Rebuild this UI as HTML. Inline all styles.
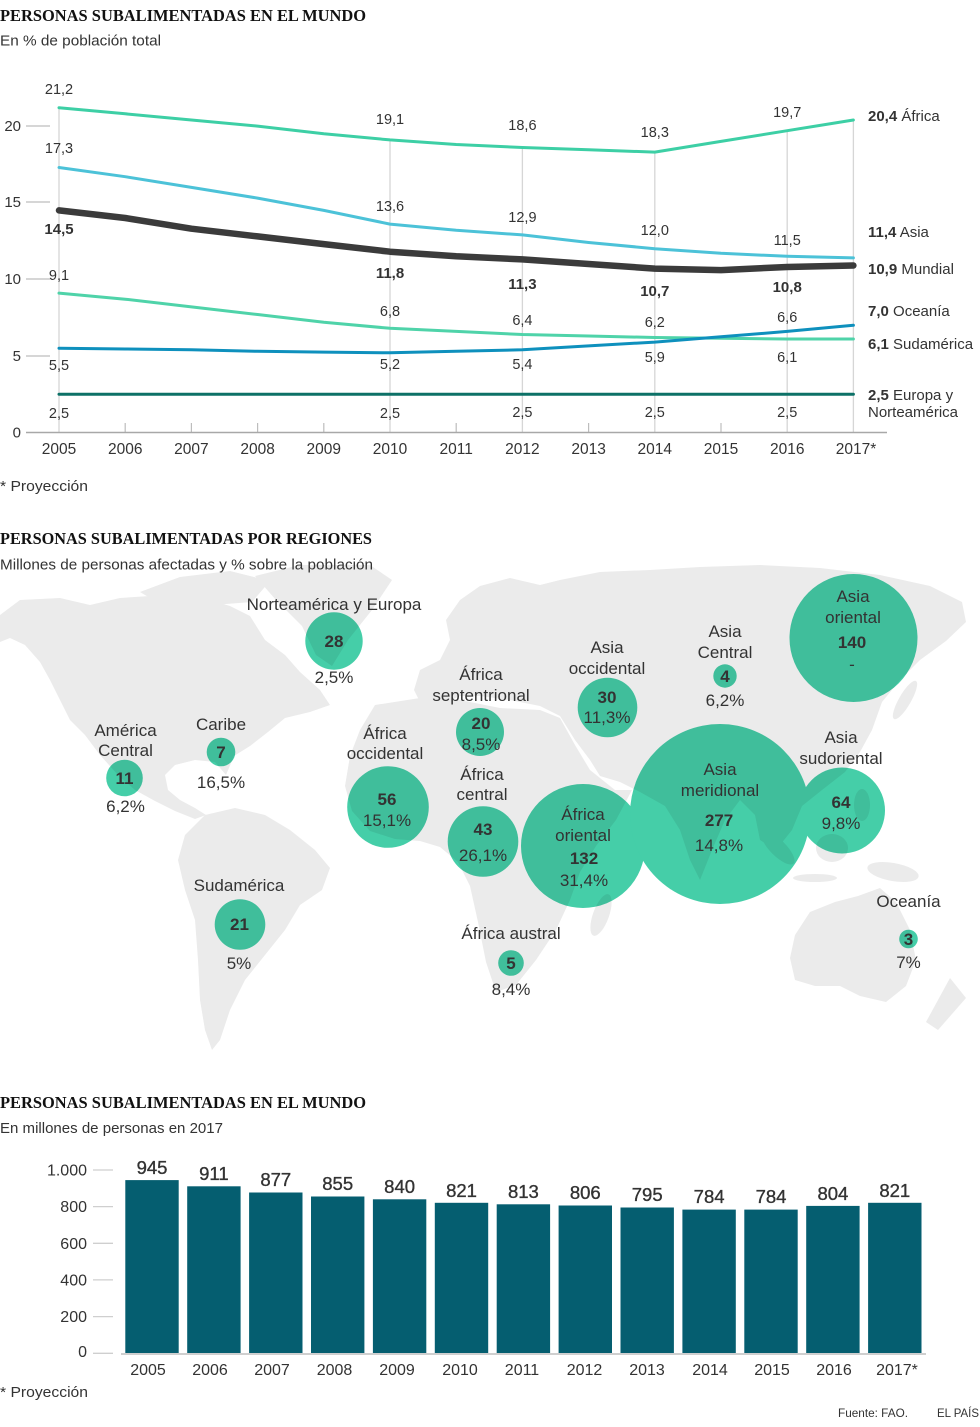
<!DOCTYPE html>
<html><head><meta charset="utf-8">
<style>
html,body{margin:0;padding:0;background:#fff;}
svg{display:block;}
text{font-family:"Liberation Sans",sans-serif;fill:#333;}
.t{font-family:"Liberation Serif",serif;font-weight:bold;font-size:17px;fill:#111;}
.st{font-size:14.5px;}
.v{font-size:14.5px;text-anchor:middle;}
.vb{font-size:15px;font-weight:bold;text-anchor:middle;}
.yl{font-size:15px;text-anchor:end;}
.xl{font-size:15.5px;text-anchor:middle;}
.rl{font-size:15px;}
.m{font-size:17px;text-anchor:middle;}
.mb{font-size:17px;font-weight:bold;text-anchor:middle;}
.bv{font-size:18.5px;text-anchor:middle;stroke:#333;stroke-width:0.35;}
.by{font-size:16px;text-anchor:end;}
.bx{font-size:16px;text-anchor:middle;}
</style></head>
<body>
<svg width="980" height="1427" viewBox="0 0 980 1427" xmlns="http://www.w3.org/2000/svg">

<!-- ===== Chart 1 ===== -->
<text class="t" x="0" y="21" textLength="366" lengthAdjust="spacingAndGlyphs">PERSONAS SUBALIMENTADAS EN EL MUNDO</text>
<text class="st" x="0" y="45.5" textLength="161" lengthAdjust="spacingAndGlyphs">En % de población total</text>

<!-- vertical grid lines -->
<g stroke="#d6d6d6" stroke-width="1.3">
<line x1="59" y1="107" x2="59" y2="432"/>
<line x1="390" y1="140" x2="390" y2="432"/>
<line x1="522.4" y1="147" x2="522.4" y2="432"/>
<line x1="654.8" y1="152" x2="654.8" y2="432"/>
<line x1="787.2" y1="131" x2="787.2" y2="432"/>
<line x1="853.4" y1="120" x2="853.4" y2="432"/>
</g>
<g stroke="#bdbdbd" stroke-width="1.2">
<line x1="125.2" y1="423" x2="125.2" y2="432"/>
<line x1="191.4" y1="423" x2="191.4" y2="432"/>
<line x1="257.6" y1="423" x2="257.6" y2="432"/>
<line x1="323.8" y1="423" x2="323.8" y2="432"/>
<line x1="456.2" y1="423" x2="456.2" y2="432"/>
<line x1="588.6" y1="423" x2="588.6" y2="432"/>
<line x1="721" y1="423" x2="721" y2="432"/>
<line x1="26" y1="126" x2="50" y2="126"/>
<line x1="26" y1="202" x2="50" y2="202"/>
<line x1="26" y1="279" x2="50" y2="279"/>
<line x1="26" y1="356" x2="50" y2="356"/>
</g>
<line x1="26" y1="432.5" x2="887" y2="432.5" stroke="#a8a8a8" stroke-width="1.4"/>

<!-- y labels -->
<text class="yl" x="21" y="131">20</text>
<text class="yl" x="21" y="207">15</text>
<text class="yl" x="21" y="284">10</text>
<text class="yl" x="21" y="361">5</text>
<text class="yl" x="21" y="437.5">0</text>

<!-- series -->
<g fill="none" stroke-linejoin="round" stroke-linecap="round">
<polyline stroke="#0d7167" stroke-width="3" points="59,394.2 853.4,394.2"/>
<polyline stroke="#4fd3a9" stroke-width="3" points="59,293.1 125.2,299.2 191.4,306.9 257.6,314.5 323.8,322.2 390,328.3 456.2,331.4 522.4,334.5 588.6,336 654.8,337.5 721,338.3 787.2,339 853.4,339"/>
<polyline stroke="#0e90bd" stroke-width="3" points="59,348.2 125.2,349 191.4,349.8 257.6,351.3 323.8,352.1 390,352.8 456.2,351.3 522.4,349.8 588.6,345.9 654.8,342.1 721,336.8 787.2,331.4 853.4,325.3"/>
<polyline stroke="#4cc2d8" stroke-width="3" points="59,167.5 125.2,176.7 191.4,187.4 257.6,198.1 323.8,210.4 390,224.1 456.2,230.3 522.4,234.9 588.6,242.5 654.8,248.7 721,253.3 787.2,256.3 853.4,257.9"/>
<polyline stroke="#3dcfa5" stroke-width="3" points="59,107.7 125.2,113.8 191.4,120 257.6,126.1 323.8,133.8 390,139.9 456.2,144.5 522.4,147.5 588.6,149.8 654.8,152.1 721,141.4 787.2,130.7 853.4,120"/>
<polyline stroke="#3b3b3b" stroke-width="6.5" points="59,210.4 125.2,218 191.4,228.7 257.6,236.4 323.8,244.1 390,251.7 456.2,256.3 522.4,259.4 588.6,264 654.8,268.6 721,270.1 787.2,267 853.4,265.5"/>
</g>

<!-- value labels -->
<text class="v" x="59" y="94">21,2</text>
<text class="v" x="59" y="153">17,3</text>
<text class="vb" x="59" y="234">14,5</text>
<text class="v" x="59" y="280">9,1</text>
<text class="v" x="59" y="370">5,5</text>
<text class="v" x="59" y="418">2,5</text>

<text class="v" x="390" y="124">19,1</text>
<text class="v" x="390" y="211">13,6</text>
<text class="vb" x="390" y="278">11,8</text>
<text class="v" x="390" y="316">6,8</text>
<text class="v" x="390" y="369">5,2</text>
<text class="v" x="390" y="418">2,5</text>

<text class="v" x="522.4" y="130">18,6</text>
<text class="v" x="522.4" y="222">12,9</text>
<text class="vb" x="522.4" y="289">11,3</text>
<text class="v" x="522.4" y="325">6,4</text>
<text class="v" x="522.4" y="369">5,4</text>
<text class="v" x="522.4" y="417">2,5</text>

<text class="v" x="654.8" y="137">18,3</text>
<text class="v" x="654.8" y="235">12,0</text>
<text class="vb" x="654.8" y="296">10,7</text>
<text class="v" x="654.8" y="327">6,2</text>
<text class="v" x="654.8" y="362">5,9</text>
<text class="v" x="654.8" y="417">2,5</text>

<text class="v" x="787.2" y="117">19,7</text>
<text class="v" x="787.2" y="245">11,5</text>
<text class="vb" x="787.2" y="292">10,8</text>
<text class="v" x="787.2" y="322">6,6</text>
<text class="v" x="787.2" y="362">6,1</text>
<text class="v" x="787.2" y="417">2,5</text>

<!-- right labels -->
<text class="rl" x="868" y="121"><tspan font-weight="bold">20,4</tspan> África</text>
<text class="rl" x="868" y="237"><tspan font-weight="bold">11,4</tspan> Asia</text>
<text class="rl" x="868" y="274"><tspan font-weight="bold">10,9</tspan> Mundial</text>
<text class="rl" x="868" y="316"><tspan font-weight="bold">7,0</tspan> Oceanía</text>
<text class="rl" x="868" y="349"><tspan font-weight="bold">6,1</tspan> Sudamérica</text>
<text class="rl" x="868" y="400"><tspan font-weight="bold">2,5</tspan> Europa y</text>
<text class="rl" x="868" y="417">Norteamérica</text>

<!-- x labels -->
<text class="xl" x="59" y="454">2005</text>
<text class="xl" x="125.2" y="454">2006</text>
<text class="xl" x="191.4" y="454">2007</text>
<text class="xl" x="257.6" y="454">2008</text>
<text class="xl" x="323.8" y="454">2009</text>
<text class="xl" x="390" y="454">2010</text>
<text class="xl" x="456.2" y="454">2011</text>
<text class="xl" x="522.4" y="454">2012</text>
<text class="xl" x="588.6" y="454">2013</text>
<text class="xl" x="654.8" y="454">2014</text>
<text class="xl" x="721" y="454">2015</text>
<text class="xl" x="787.2" y="454">2016</text>
<text class="xl" x="856" y="454">2017*</text>

<text x="0" y="491" font-size="15" textLength="88" lengthAdjust="spacingAndGlyphs">* Proyección</text>

<!-- ===== Chart 2: map ===== -->
<g fill="#ebebeb">
<!-- North America -->
<polygon points="0,615 20,600 60,598 90,605 120,598 150,596 175,600 200,597 230,606 250,616 265,640 285,655 300,672 320,690 330,705 310,712 285,718 268,732 250,746 234,756 226,775 215,762 195,760 175,765 165,775 168,790 180,800 195,808 206,815 195,819 175,811 155,801 135,790 118,775 100,755 85,735 70,720 60,700 50,680 40,662 25,645 10,638 0,642"/>
<polygon points="140,592 180,577 230,571 270,581 252,602 200,606 160,604"/>
<!-- Greenland -->
<polygon points="255,576 300,565 370,565 392,580 372,610 348,640 332,666 316,655 302,626 276,600"/>
<!-- South America -->
<polygon points="205,815 235,808 265,815 290,830 315,850 330,868 322,890 300,905 285,930 265,955 245,980 230,1010 220,1040 212,1050 205,1030 200,1000 198,960 195,920 185,890 178,860 185,835"/>
<!-- Eurasia -->
<polygon points="420,702 414,690 420,670 440,660 450,640 446,620 460,600 480,586 510,578 540,585 560,580 600,572 650,570 700,567 760,565 820,568 880,575 930,586 962,602 966,622 946,641 920,660 900,680 882,702 872,730 860,752 845,772 822,790 802,806 792,830 776,850 760,840 755,815 740,800 725,820 712,850 700,880 690,860 680,830 665,806 640,792 620,782 600,776 590,760 575,740 560,716 540,706 510,700 480,696 460,696 440,705"/>
<!-- Africa -->
<polygon points="375,705 420,698 460,700 500,708 540,710 560,718 575,745 590,770 615,790 632,790 616,820 596,846 580,872 570,900 556,930 536,960 516,985 496,992 486,962 478,922 470,886 458,862 440,847 420,841 395,839 370,831 352,811 345,786 350,756 360,730"/>
<ellipse cx="601" cy="915" rx="8" ry="22" transform="rotate(20 601 915)"/>
<!-- Japan, SE Asia islands -->
<ellipse cx="905" cy="700" rx="6" ry="22" transform="rotate(30 905 700)"/>
<ellipse cx="778" cy="848" rx="8" ry="22" transform="rotate(-45 778 848)"/>
<ellipse cx="832" cy="848" rx="16" ry="14"/>
<ellipse cx="862" cy="805" rx="8" ry="16"/>
<ellipse cx="893" cy="872" rx="26" ry="9" transform="rotate(10 893 872)"/>
<ellipse cx="815" cy="878" rx="22" ry="4"/>
<!-- Australia -->
<polygon points="795,935 810,912 835,902 858,896 880,888 896,902 910,930 916,960 906,986 886,1002 860,996 840,986 815,986 795,980 790,958"/>
<polygon points="950,978 966,998 938,1030 926,1022"/>
</g>

<text class="t" x="0" y="544" textLength="372" lengthAdjust="spacingAndGlyphs">PERSONAS SUBALIMENTADAS POR REGIONES</text>
<text class="st" x="0" y="569.5" textLength="373" lengthAdjust="spacingAndGlyphs">Millones de personas afectadas y % sobre la población</text>

<g fill="#45cea8" style="mix-blend-mode:multiply">
<circle cx="334" cy="641" r="28.7"/>
<circle cx="221" cy="752" r="14.3"/>
<circle cx="124.5" cy="778" r="18.3"/>
<circle cx="480" cy="732" r="24"/>
<circle cx="388" cy="807" r="40.8"/>
<circle cx="483" cy="841.5" r="35.3"/>
<circle cx="583" cy="846" r="62"/>
<circle cx="511" cy="963" r="12.8"/>
<circle cx="240" cy="924.5" r="25.3"/>
<circle cx="607.5" cy="707.5" r="29.8"/>
<circle cx="725" cy="676" r="11.7"/>
<circle cx="853.5" cy="638" r="64"/>
<circle cx="720" cy="814" r="90"/>
<circle cx="842" cy="810.5" r="43"/>
<circle cx="908.5" cy="939" r="9.3"/>
</g>

<!-- map labels -->
<text class="m" x="334" y="610">Norteamérica y Europa</text>
<text class="mb" x="334" y="647">28</text>
<text class="m" x="334" y="683">2,5%</text>

<text class="m" x="125.5" y="736">América</text>
<text class="m" x="125.5" y="756">Central</text>
<text class="mb" x="124.5" y="784">11</text>
<text class="m" x="125.5" y="812">6,2%</text>

<text class="m" x="221" y="730">Caribe</text>
<text class="mb" x="221" y="758">7</text>
<text class="m" x="221" y="788">16,5%</text>

<text class="m" x="481" y="680">África</text>
<text class="m" x="481" y="701">septentrional</text>
<text class="mb" x="481" y="729">20</text>
<text class="m" x="481" y="750">8,5%</text>

<text class="m" x="385" y="739">África</text>
<text class="m" x="385" y="759">occidental</text>
<text class="mb" x="387" y="805">56</text>
<text class="m" x="387" y="826">15,1%</text>

<text class="m" x="482" y="780">África</text>
<text class="m" x="482" y="800">central</text>
<text class="mb" x="483" y="835">43</text>
<text class="m" x="483" y="861">26,1%</text>

<text class="m" x="583" y="820">África</text>
<text class="m" x="583" y="841">oriental</text>
<text class="mb" x="584" y="864">132</text>
<text class="m" x="584" y="886">31,4%</text>

<text class="m" x="239" y="891">Sudamérica</text>
<text class="mb" x="239.5" y="930">21</text>
<text class="m" x="239" y="969">5%</text>

<text class="m" x="511" y="939">África austral</text>
<text class="mb" x="511" y="969">5</text>
<text class="m" x="511" y="995">8,4%</text>

<text class="m" x="607" y="653">Asia</text>
<text class="m" x="607" y="674">occidental</text>
<text class="mb" x="607" y="703">30</text>
<text class="m" x="607" y="723">11,3%</text>

<text class="m" x="725" y="637">Asia</text>
<text class="m" x="725" y="658">Central</text>
<text class="mb" x="725" y="682">4</text>
<text class="m" x="725" y="706">6,2%</text>

<text class="m" x="853" y="602">Asia</text>
<text class="m" x="853" y="623">oriental</text>
<text class="mb" x="852" y="648">140</text>
<text class="m" x="852" y="670">-</text>

<text class="m" x="720" y="775">Asia</text>
<text class="m" x="720" y="796">meridional</text>
<text class="mb" x="719" y="826">277</text>
<text class="m" x="719" y="851">14,8%</text>

<text class="m" x="841" y="743">Asia</text>
<text class="m" x="841" y="764">sudoriental</text>
<text class="mb" x="841" y="808">64</text>
<text class="m" x="841" y="829">9,8%</text>

<text class="m" x="908.5" y="907">Oceanía</text>
<text class="mb" x="908.5" y="945">3</text>
<text class="m" x="908.5" y="968">7%</text>

<!-- ===== Chart 3: bars ===== -->
<text class="t" x="0" y="1108" textLength="366" lengthAdjust="spacingAndGlyphs">PERSONAS SUBALIMENTADAS EN EL MUNDO</text>
<text class="st" x="0" y="1133" textLength="223" lengthAdjust="spacingAndGlyphs">En millones de personas en 2017</text>

<g stroke="#cfcfcf" stroke-width="1.3">
<line x1="93" y1="1170" x2="113" y2="1170"/>
<line x1="93" y1="1206.6" x2="113" y2="1206.6"/>
<line x1="93" y1="1243.3" x2="113" y2="1243.3"/>
<line x1="93" y1="1279.9" x2="113" y2="1279.9"/>
<line x1="93" y1="1316.6" x2="113" y2="1316.6"/>
<line x1="93" y1="1353.3" x2="113" y2="1353.3"/>
</g>
<text class="by" x="87" y="1175.5">1.000</text>
<text class="by" x="87" y="1212">800</text>
<text class="by" x="87" y="1248.8">600</text>
<text class="by" x="87" y="1285.4">400</text>
<text class="by" x="87" y="1322">200</text>
<text class="by" x="87" y="1357">0</text>

<g fill="#055e70">
<rect x="125.3" y="1180.1" width="53.4" height="173.2"/>
<rect x="187.2" y="1186.3" width="53.4" height="167"/>
<rect x="249.1" y="1192.5" width="53.4" height="160.8"/>
<rect x="311.0" y="1196.5" width="53.4" height="156.8"/>
<rect x="372.9" y="1199.3" width="53.4" height="154"/>
<rect x="434.8" y="1202.8" width="53.4" height="150.5"/>
<rect x="496.7" y="1204.3" width="53.4" height="149"/>
<rect x="558.6" y="1205.5" width="53.4" height="147.8"/>
<rect x="620.5" y="1207.5" width="53.4" height="145.8"/>
<rect x="682.4" y="1209.6" width="53.4" height="143.7"/>
<rect x="744.3" y="1209.6" width="53.4" height="143.7"/>
<rect x="806.2" y="1205.9" width="53.4" height="147.4"/>
<rect x="868.1" y="1202.8" width="53.4" height="150.5"/>
</g>
<line x1="121" y1="1354" x2="926" y2="1354" stroke="#cfcfcf" stroke-width="2"/>

<text class="bv" x="152" y="1174">945</text>
<text class="bv" x="213.9" y="1180">911</text>
<text class="bv" x="275.8" y="1186">877</text>
<text class="bv" x="337.7" y="1190">855</text>
<text class="bv" x="399.6" y="1193">840</text>
<text class="bv" x="461.5" y="1197">821</text>
<text class="bv" x="523.4" y="1198">813</text>
<text class="bv" x="585.3" y="1199">806</text>
<text class="bv" x="647.2" y="1201">795</text>
<text class="bv" x="709.1" y="1203">784</text>
<text class="bv" x="771" y="1203">784</text>
<text class="bv" x="832.9" y="1200">804</text>
<text class="bv" x="894.8" y="1197">821</text>

<text class="bx" x="148" y="1375">2005</text>
<text class="bx" x="210" y="1375">2006</text>
<text class="bx" x="272" y="1375">2007</text>
<text class="bx" x="334.5" y="1375">2008</text>
<text class="bx" x="397" y="1375">2009</text>
<text class="bx" x="460" y="1375">2010</text>
<text class="bx" x="522" y="1375">2011</text>
<text class="bx" x="584.5" y="1375">2012</text>
<text class="bx" x="647" y="1375">2013</text>
<text class="bx" x="710" y="1375">2014</text>
<text class="bx" x="772" y="1375">2015</text>
<text class="bx" x="834" y="1375">2016</text>
<text class="bx" x="897" y="1375">2017*</text>

<text x="0" y="1397" font-size="15" textLength="88" lengthAdjust="spacingAndGlyphs">* Proyección</text>
<text x="838" y="1417" font-size="12" textLength="70" lengthAdjust="spacingAndGlyphs">Fuente: FAO.</text>
<text x="937" y="1417" font-size="12" textLength="42" lengthAdjust="spacingAndGlyphs">EL PAÍS</text>
</svg>
</body></html>
